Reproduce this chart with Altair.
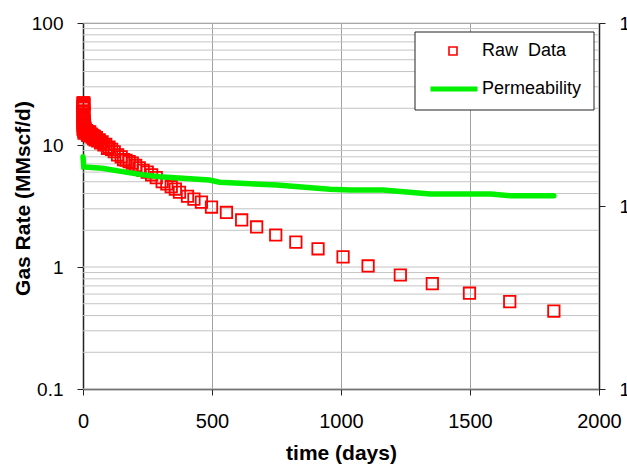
import altair as alt
import pandas as pd

# ---------------- data ----------------
raw_t = [0, 0, 0, 0, 0, 0, 0, 1, 1, 1, 1, 2, 2, 2, 2, 3, 3, 3, 3, 4, 4, 4, 4,
         5, 6, 7, 8, 9, 10, 12, 14, 16, 18, 20, 23, 26, 29, 32, 35, 38, 41, 44, 47,
         52, 57, 63, 68, 74, 81, 88, 95, 101, 111, 121, 134, 148, 157, 167, 179, 191,
         204, 218, 233, 249, 266, 284, 307, 325, 342, 358, 374, 405, 430, 459, 498,
         556, 615, 673, 747, 825, 911, 1008, 1105, 1230, 1354, 1498, 1654, 1825]
raw_q = [22, 20.5, 19, 17.5, 16, 14.5, 13.5, 22, 21, 18.5, 15.5, 22, 20, 17, 14,
         22, 19, 16, 13, 21.5, 18, 15, 12.5,
         15.5, 14.5, 13.8, 13.5, 13.2, 13.0, 12.6, 13.1, 12.4, 12.0, 12.9, 12.2, 12.8, 11.9,
         12.3, 11.6, 12.0, 11.3, 11.8, 11.0, 11.5, 10.8, 11.0, 10.4, 10.6, 10.0, 10.1, 9.4,
         9.6, 9.2, 8.8, 8.3, 8.0, 7.6, 7.5, 7.3, 7.1, 6.8, 6.5, 6.2, 6.0, 5.7, 5.4, 5.0,
         4.8, 4.55, 4.35, 4.1, 3.8, 3.6, 3.4, 3.1, 2.8, 2.43, 2.13, 1.83, 1.60, 1.41,
         1.21, 1.02, 0.86, 0.73, 0.61, 0.52, 0.435]

perm_t = [0, 3, 75, 153, 231, 296, 385, 490, 529, 751, 957, 1035, 1163, 1346, 1580, 1658, 1825]
perm_q = [8.0, 6.6, 6.45, 6.05, 5.7, 5.5, 5.33, 5.17, 4.95, 4.7, 4.34, 4.27, 4.27, 3.97,
          3.96, 3.84, 3.84]

raw_name = "Raw\u00a0\u00a0Data"
perm_name = "Permeability"
raw_color = "#ff0000"
perm_color = "#00f000"

x_ticks = [0, 500, 1000, 1500, 2000]
y_ticks = [0.1, 1, 10, 100]
right_ticks = [1, 10, 100]
grid_vals = [0.1, 0.2, 0.3, 0.4, 0.5, 0.6, 0.7, 0.8, 0.9,
             1, 2, 3, 4, 5, 6, 7, 8, 9,
             10, 20, 30, 40, 50, 60, 70, 80, 90, 100]

raw_df = pd.DataFrame({"t": raw_t, "q": raw_q, "s1": raw_name})
perm_df = pd.DataFrame({"t": perm_t, "q": perm_q, "s2": perm_name})
grid_df = pd.DataFrame({"g": grid_vals, "t": 0})
right_df = pd.DataFrame({"r": [right_ticks[0], right_ticks[-1]]})

FONT = "Liberation Sans"

xscale = alt.Scale(domain=[0, 2000], nice=False, zero=False)
yscale = alt.Scale(type="log", domain=[0.1, 100], nice=False)

legend_raw = alt.Legend(
    title=None, orient="none", legendX=361, legendY=19, padding=0,
    labelFont=FONT, labelFontSize=18, labelColor="black", labelOffset=20,
    symbolType="square", symbolSize=64, symbolStrokeWidth=1.6,
    symbolFillColor="transparent", symbolStrokeColor=raw_color, symbolOpacity=1,
)
legend_perm = alt.Legend(
    title=None, orient="none", legendX=345, legendY=40, padding=0,
    labelFont=FONT, labelFontSize=18, labelColor="black", labelOffset=2,
    symbolType="stroke", symbolSize=2209, symbolStrokeWidth=5,
    symbolStrokeColor=perm_color, symbolOpacity=1,
)

xaxis = alt.Axis(values=x_ticks, grid=True, gridColor="#a0a0a0", gridWidth=1,
                 format="d", title="time (days)", labelFontSize=20, titleFontSize=21,
                 titleFontWeight="bold", tickSize=6, labelPadding=16, titlePadding=11,
                 domainColor="#222", domainWidth=1.5, tickColor="#222", labelColor="black",
                 titleColor="black", labelFlush=False)
yaxis = alt.Axis(values=y_ticks, grid=False, title="Gas Rate (MMscf/d)", format="~g",
                 labelFontSize=19, titleFontSize=21, titleFontWeight="bold", tickSize=6,
                 labelPadding=14, domainColor="#222", domainWidth=1.5, tickColor="#222",
                 labelColor="black", titleColor="black", titleX=-50, titleY=175)

X = alt.X("t:Q", scale=xscale, axis=xaxis)
Y = alt.Y("q:Q", scale=yscale, axis=yaxis)

grid = alt.Chart(grid_df).mark_rule(color="#c4c4c4", strokeWidth=1).encode(
    y=alt.Y("g:Q", scale=yscale, axis=yaxis),
    x=alt.value(0), x2=alt.value(516),
)

raw = alt.Chart(raw_df).mark_point(filled=False, size=130, strokeWidth=1.8,
                                   opacity=1, color=raw_color).encode(
    x=X, y=Y,
    shape=alt.Shape("s1:N", scale=alt.Scale(domain=[raw_name], range=["square"]),
                    legend=legend_raw),
)

perm = alt.Chart(perm_df).mark_line(strokeWidth=5.5, strokeCap="round").encode(
    x=X, y=Y,
    color=alt.Color("s2:N", scale=alt.Scale(domain=[perm_name], range=[perm_color]),
                    legend=legend_perm),
)

legend_box = alt.Chart(grid_df).mark_rect(fill="white", stroke="#222", strokeWidth=1).encode(
    x=alt.value(332), x2=alt.value(511), y=alt.value(9), y2=alt.value(87)
).transform_filter("datum.g == 100")

right = alt.Chart(right_df).mark_point(opacity=0).encode(
    y=alt.Y("r:Q", scale=alt.Scale(type="log", domain=[1, 100], nice=False),
            axis=alt.Axis(orient="right", values=right_ticks, format="~g", title=None,
                          grid=False, labelFontSize=19, tickSize=6, labelPadding=14,
                          domainColor="#222", domainWidth=1.5, tickColor="#222",
                          labelColor="black"))
)

main = alt.layer(grid, raw, perm, legend_box)
chart = alt.layer(main, right).resolve_scale(y="independent").properties(
    width=516, height=366,
    padding={"left": 83, "top": 23, "right": 28, "bottom": 76},
    autosize=alt.AutoSizeParams(type="none"),
).configure(font=FONT).configure_view(stroke="#888888", strokeWidth=1)

chart.save("out.html", embed_options={"renderer": "svg", "actions": False})
